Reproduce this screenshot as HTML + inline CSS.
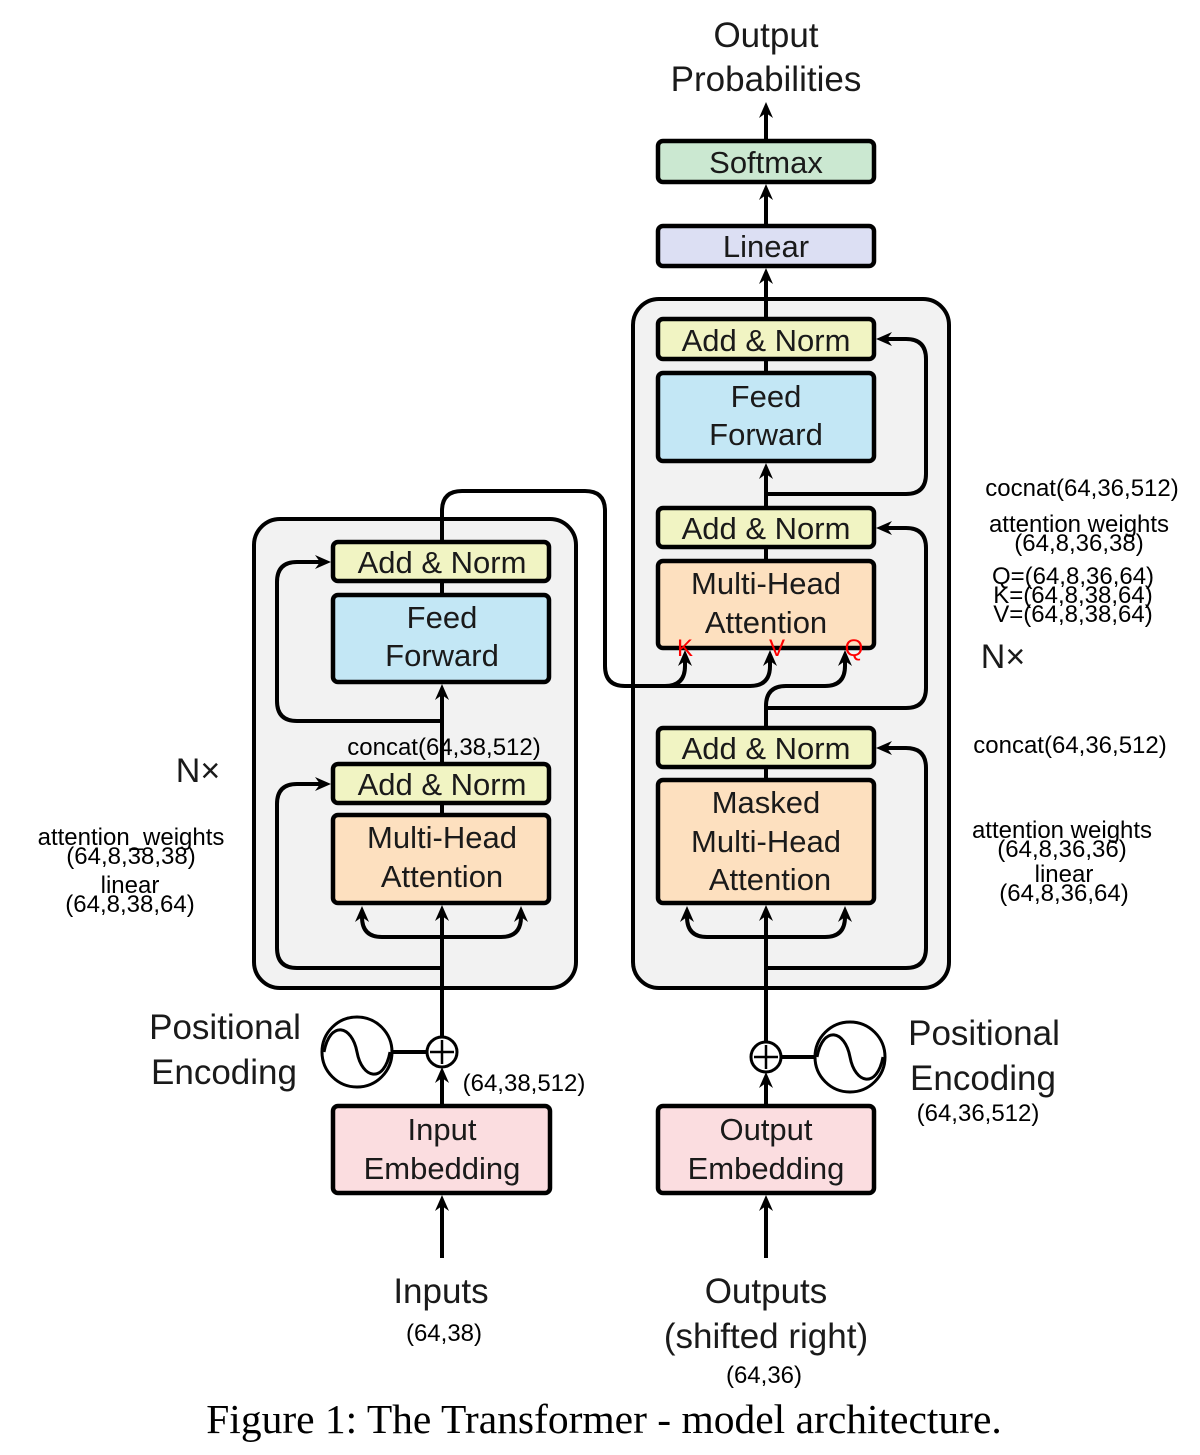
<!DOCTYPE html>
<html><head><meta charset="utf-8"><style>
html,body{margin:0;padding:0;background:#fff;}
svg{display:block;}
.b{font-family:"Liberation Sans",sans-serif;font-size:31px;fill:#1a1a1a;text-anchor:middle;}
.s{font-family:"Liberation Sans","DejaVu Sans",sans-serif;font-size:24px;fill:#000;text-anchor:middle;}
.l{fill:none;stroke:#000;stroke-width:4;stroke-linejoin:round;}
.bx{stroke:#000;stroke-width:4.5;}
</style></head><body>
<svg width="1200" height="1455" viewBox="0 0 1200 1455" xmlns="http://www.w3.org/2000/svg">
<defs>
<marker id="a" viewBox="0 0 16 14" refX="5" refY="7" markerWidth="16" markerHeight="14" markerUnits="userSpaceOnUse" orient="auto">
<path d="M0,0 L16,7 L0,14 L5,7 z" fill="#000"/>
</marker>
</defs>

<rect x="254" y="519" width="322" height="469" rx="26" fill="#f2f2f2" stroke="#000" stroke-width="4"/>
<rect x="633" y="299" width="316" height="689" rx="26" fill="#f2f2f2" stroke="#000" stroke-width="4"/>

<path class="l" d="M442,1258 V1206" marker-end="url(#a)"/>
<path class="l" d="M442,1106 V1078" marker-end="url(#a)"/>
<path class="l" d="M442,1037 V916" marker-end="url(#a)"/>
<path class="l" d="M442,937 H382 Q362,937 362,917" marker-end="url(#a)"/>
<path class="l" d="M442,937 H501 Q521,937 521,917" marker-end="url(#a)"/>
<path class="l" d="M442,968 H297 Q277,968 277,948 V804 Q277,784 297,784 H320" marker-end="url(#a)"/>
<path class="l" d="M442,803 V815"/>
<path class="l" d="M442,764 V695" marker-end="url(#a)"/>
<path class="l" d="M442,721 H297 Q277,721 277,701 V582 Q277,562 297,562 H320" marker-end="url(#a)"/>
<path class="l" d="M442,581 V595"/>
<path class="l" d="M442,542 V511 Q442,491 462,491 H585 Q605,491 605,511 V666 Q605,686 625,686 H665 Q685,686 685,666 V661" marker-end="url(#a)"/>
<path class="l" d="M660,686 H750 Q770,686 770,666 V661" marker-end="url(#a)"/>

<path class="l" d="M766,1258 V1206" marker-end="url(#a)"/>
<path class="l" d="M766,1106 V1083" marker-end="url(#a)"/>
<path class="l" d="M766,1042 V916" marker-end="url(#a)"/>
<path class="l" d="M766,937 H707 Q687,937 687,917" marker-end="url(#a)"/>
<path class="l" d="M766,937 H825 Q845,937 845,917" marker-end="url(#a)"/>
<path class="l" d="M766,968 H906 Q926,968 926,948 V768 Q926,748 906,748 H887" marker-end="url(#a)"/>
<path class="l" d="M766,767 V780"/>
<path class="l" d="M766,728 V706 Q766,686 786,686 H825 Q845,686 845,666 V661" marker-end="url(#a)"/>
<path class="l" d="M766,708 H906 Q926,708 926,688 V548 Q926,528 906,528 H887" marker-end="url(#a)"/>
<path class="l" d="M766,547 V561"/>
<path class="l" d="M766,508 V474" marker-end="url(#a)"/>
<path class="l" d="M766,494 H906 Q926,494 926,474 V359 Q926,339 906,339 H887" marker-end="url(#a)"/>
<path class="l" d="M766,359 V373"/>
<path class="l" d="M766,319 V279" marker-end="url(#a)"/>
<path class="l" d="M766,226 V195" marker-end="url(#a)"/>
<path class="l" d="M766,141 V113" marker-end="url(#a)"/>

<rect class="bx" x="333" y="542" width="216" height="39" rx="5" fill="#f1f4c3"/>
<text class="b" x="442" y="573">Add &amp; Norm</text>
<rect class="bx" x="333" y="595" width="216" height="87" rx="5" fill="#c3e7f5"/>
<text class="b" x="442" y="628">Feed</text><text class="b" x="442" y="666">Forward</text>
<rect class="bx" x="333" y="764" width="216" height="39" rx="5" fill="#f1f4c3"/>
<text class="b" x="442" y="795">Add &amp; Norm</text>
<rect class="bx" x="333" y="815" width="216" height="88" rx="5" fill="#fde0bf"/>
<text class="b" x="442" y="848">Multi-Head</text><text class="b" x="442" y="887">Attention</text>
<rect class="bx" x="333" y="1106" width="217" height="87" rx="5" fill="#fbdde0"/>
<text class="b" x="442" y="1140">Input</text><text class="b" x="442" y="1179">Embedding</text>

<rect class="bx" x="658" y="141" width="216" height="41" rx="5" fill="#cbe8d1"/>
<text class="b" x="766" y="173">Softmax</text>
<rect class="bx" x="658" y="226" width="216" height="40" rx="5" fill="#dcdff3"/>
<text class="b" x="766" y="257">Linear</text>
<rect class="bx" x="658" y="319" width="216" height="40" rx="5" fill="#f1f4c3"/>
<text class="b" x="766" y="351">Add &amp; Norm</text>
<rect class="bx" x="658" y="373" width="216" height="88" rx="5" fill="#c3e7f5"/>
<text class="b" x="766" y="407">Feed</text><text class="b" x="766" y="445">Forward</text>
<rect class="bx" x="658" y="508" width="216" height="39" rx="5" fill="#f1f4c3"/>
<text class="b" x="766" y="539">Add &amp; Norm</text>
<rect class="bx" x="658" y="561" width="216" height="87" rx="5" fill="#fde0bf"/>
<text class="b" x="766" y="594">Multi-Head</text><text class="b" x="766" y="633">Attention</text>
<text x="685" y="656" font-family="Liberation Sans,sans-serif" font-size="24" fill="#f00" text-anchor="middle">K</text>
<text x="777" y="656" font-family="Liberation Sans,sans-serif" font-size="24" fill="#f00" text-anchor="middle">V</text>
<text x="854" y="656" font-family="Liberation Sans,sans-serif" font-size="24" fill="#f00" text-anchor="middle">Q</text>
<rect class="bx" x="658" y="728" width="216" height="39" rx="5" fill="#f1f4c3"/>
<text class="b" x="766" y="759">Add &amp; Norm</text>
<rect class="bx" x="658" y="780" width="216" height="123" rx="5" fill="#fde0bf"/>
<text class="b" x="766" y="813">Masked</text><text class="b" x="766" y="852">Multi-Head</text><text class="b" x="770" y="890">Attention</text>
<rect class="bx" x="658" y="1106" width="216" height="87" rx="5" fill="#fbdde0"/>
<text class="b" x="766" y="1140">Output</text><text class="b" x="766" y="1179">Embedding</text>

<line x1="392" y1="1052" x2="427" y2="1052" stroke="#000" stroke-width="4"/>
<circle cx="442" cy="1052" r="15" fill="#fff" stroke="#000" stroke-width="3"/>
<path d="M442,1040 V1064 M430,1052 H454" stroke="#000" stroke-width="2.5"/>
<circle cx="357" cy="1052" r="35" fill="#fff" stroke="#000" stroke-width="3"/>
<path d="M324,1052 C330,1020 352,1025 357,1052 C362,1079 384,1084 390,1052" fill="none" stroke="#000" stroke-width="3"/>

<line x1="781" y1="1057" x2="815" y2="1057" stroke="#000" stroke-width="4"/>
<circle cx="766" cy="1057" r="15" fill="#fff" stroke="#000" stroke-width="3"/>
<path d="M766,1045 V1069 M754,1057 H778" stroke="#000" stroke-width="2.5"/>
<circle cx="850" cy="1057" r="35" fill="#fff" stroke="#000" stroke-width="3"/>
<path d="M817,1057 C823,1025 845,1030 850,1057 C855,1084 877,1089 883,1057" fill="none" stroke="#000" stroke-width="3"/>

<text class="b" x="766" y="47" style="font-size:35px">Output</text>
<text class="b" x="766" y="91" style="font-size:35px">Probabilities</text>
<text class="b" x="225" y="1039" style="font-size:35px">Positional</text>
<text class="b" x="224" y="1084" style="font-size:35px">Encoding</text>
<text class="b" x="984" y="1045" style="font-size:35px">Positional</text>
<text class="b" x="983" y="1090" style="font-size:35px">Encoding</text>
<text class="b" x="441" y="1303" style="font-size:35px">Inputs</text>
<text class="b" x="766" y="1303" style="font-size:35px">Outputs</text>
<text class="b" x="766" y="1348" style="font-size:35px">(shifted right)</text>
<text class="b" x="198" y="782" style="font-size:34px">N×</text>
<text class="b" x="1003" y="668" style="font-size:34px">N×</text>

<text class="s" x="524" y="1091">(64,38,512)</text>
<text class="s" x="978" y="1121">(64,36,512)</text>
<text class="s" x="444" y="1341">(64,38)</text>
<text class="s" x="764" y="1383">(64,36)</text>
<text class="s" x="444" y="755">concat(64,38,512)</text>
<text class="s" x="1070" y="753">concat(64,36,512)</text>
<text class="s" x="1082" y="496">cocnat(64,36,512)</text>
<text class="s" x="1079" y="532">attention weights</text>
<text class="s" x="1079" y="551">(64,8,36,38)</text>
<text class="s" x="1073" y="584">Q=(64,8,36,64)</text>
<text class="s" x="1073" y="603">K=(64,8,38,64)</text>
<text class="s" x="1073" y="622">V=(64,8,38,64)</text>
<text class="s" x="1062" y="838">attention weights</text>
<text class="s" x="1062" y="857">(64,8,36,36)</text>
<text class="s" x="1064" y="882">linear</text>
<text class="s" x="1064" y="901">(64,8,36,64)</text>
<text class="s" x="131" y="845">attention_weights</text>
<text class="s" x="131" y="864">(64,8,38,38)</text>
<text class="s" x="130" y="893">linear</text>
<text class="s" x="130" y="912">(64,8,38,64)</text>

<text x="604" y="1433" font-family="Liberation Serif,serif" font-size="41.5" fill="#000" text-anchor="middle">Figure 1: The Transformer - model architecture.</text>
</svg>
</body></html>
